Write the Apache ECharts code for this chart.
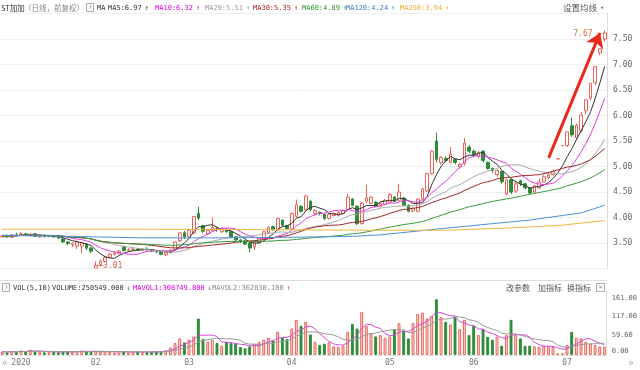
<!DOCTYPE html>
<html><head><meta charset="utf-8">
<script src="https://cdn.jsdelivr.net/npm/echarts@6/dist/echarts.min.js"></script>
<style>html,body{margin:0;padding:0;background:#fff;overflow:hidden}#c{width:640px;height:370px}</style>
</head><body><div id="c"></div>
<script>
// ---------- DATA ----------
const dates = [
 '2019-12-26','2019-12-27','2019-12-30','2019-12-31',
 '2020-01-02','2020-01-03','2020-01-06','2020-01-07','2020-01-08','2020-01-09','2020-01-10','2020-01-13','2020-01-14','2020-01-15','2020-01-16','2020-01-17','2020-01-20','2020-01-21','2020-01-22','2020-01-23',
 '2020-02-03','2020-02-04','2020-02-05','2020-02-06','2020-02-07','2020-02-10','2020-02-11','2020-02-12','2020-02-13','2020-02-14','2020-02-17','2020-02-18','2020-02-19','2020-02-20','2020-02-21','2020-02-24','2020-02-25','2020-02-26','2020-02-27','2020-02-28',
 '2020-03-02','2020-03-03','2020-03-04','2020-03-05','2020-03-06','2020-03-09','2020-03-10','2020-03-11','2020-03-12','2020-03-13','2020-03-16','2020-03-17','2020-03-18','2020-03-19','2020-03-20','2020-03-23','2020-03-24','2020-03-25','2020-03-26','2020-03-27','2020-03-30','2020-03-31',
 '2020-04-01','2020-04-02','2020-04-03','2020-04-07','2020-04-08','2020-04-09','2020-04-10','2020-04-13','2020-04-14','2020-04-15','2020-04-16','2020-04-17','2020-04-20','2020-04-21','2020-04-22','2020-04-23','2020-04-24','2020-04-27','2020-04-28','2020-04-29','2020-04-30',
 '2020-05-06','2020-05-07','2020-05-08','2020-05-11','2020-05-12','2020-05-13','2020-05-14','2020-05-15','2020-05-18','2020-05-19','2020-05-20','2020-05-21','2020-05-22','2020-05-25','2020-05-26','2020-05-27','2020-05-28','2020-05-29',
 '2020-06-01','2020-06-02','2020-06-03','2020-06-04','2020-06-05','2020-06-08','2020-06-09','2020-06-10','2020-06-11','2020-06-12','2020-06-15','2020-06-16','2020-06-17','2020-06-18','2020-06-19','2020-06-22','2020-06-23','2020-06-24','2020-06-29','2020-06-30',
 '2020-07-01','2020-07-02','2020-07-03','2020-07-06','2020-07-07','2020-07-08','2020-07-09','2020-07-10','2020-07-13'
];
const opens = [
 3.62,3.64,3.61,3.66, 3.66,3.68,3.65,3.68,3.62,3.65,3.63,3.64,3.62,3.58,3.52,3.47,3.44,3.44,3.48,3.40,
 3.01,3.08,3.14,3.22,3.28,3.30,3.42,3.35,3.37,3.38,3.36,3.38,3.37,3.34,3.33,3.27,3.31,3.37,3.55,3.70,
 3.62,3.70,4.08,3.84,3.68,3.74,3.78,3.72,3.77,3.72,3.62,3.56,3.54,3.50,3.42,3.50,3.60,3.70,3.82,3.76,3.95,3.84,
 3.78,4.02,4.22,4.15,4.32,4.08,4.10,4.06,3.98,4.04,4.04,4.08,4.16,4.36,4.22,3.88,4.32,4.28,4.30,4.22,4.26,
 4.30,4.40,4.34,4.38,4.24,4.13,4.12,4.36,4.52,4.86,5.50,5.08,5.16,5.08,5.14,4.99,5.06,5.38,
 5.30,5.20,5.30,5.08,4.96,4.84,4.90,4.46,4.74,4.52,4.72,4.66,4.58,4.50,4.58,4.70,4.78,4.84,5.15,5.41,
 5.41,5.80,5.56,5.70,6.09,6.34,6.64,7.23,7.50
];
const closes = [
 3.64,3.62,3.66,3.65, 3.68,3.66,3.67,3.63,3.64,3.63,3.64,3.62,3.60,3.52,3.49,3.50,3.52,3.50,3.40,3.34,
 3.06,3.14,3.22,3.28,3.30,3.34,3.35,3.37,3.38,3.36,3.38,3.37,3.34,3.33,3.28,3.31,3.36,3.52,3.70,3.62,
 3.75,4.02,3.99,3.73,3.75,3.80,3.76,3.78,3.72,3.62,3.56,3.52,3.48,3.40,3.52,3.60,3.72,3.80,3.76,3.98,3.85,3.78,
 4.08,4.25,4.12,4.42,4.15,4.14,4.08,3.98,4.06,4.08,4.10,4.14,4.40,4.24,3.88,4.28,4.38,4.40,4.22,4.28,4.34,
 4.45,4.32,4.50,4.24,4.12,4.18,4.36,4.56,4.86,5.30,5.14,5.18,5.12,5.24,5.08,5.04,5.46,5.30,
 5.22,5.28,5.12,4.96,4.92,4.92,4.70,4.74,4.50,4.66,4.66,4.58,4.48,4.62,4.70,4.80,4.84,4.90,5.15,5.41,
 5.68,5.62,5.81,6.01,6.31,6.63,6.96,7.31,7.62
];
const highs = [
 3.66,3.67,3.68,3.70, 3.72,3.70,3.69,3.70,3.66,3.67,3.66,3.65,3.64,3.59,3.54,3.52,3.55,3.53,3.50,3.42,
 3.14,3.18,3.25,3.30,3.33,3.36,3.44,3.40,3.41,3.40,3.40,3.42,3.38,3.36,3.34,3.34,3.38,3.53,3.72,3.74,
 3.78,4.03,4.21,3.86,3.78,4.00,3.82,3.80,3.79,3.74,3.64,3.58,3.56,3.52,3.54,3.62,3.74,3.83,3.84,4.00,3.96,3.86,
 4.10,4.35,4.24,4.45,4.34,4.16,4.12,4.08,4.08,4.10,4.12,4.16,4.46,4.38,4.24,4.30,4.64,4.42,4.32,4.30,4.36,
 4.48,4.42,4.66,4.40,4.26,4.20,4.38,4.58,4.88,5.32,5.66,5.20,5.20,5.38,5.16,5.08,5.56,5.42,
 5.33,5.30,5.32,5.10,4.98,4.95,4.92,4.76,4.76,4.70,4.74,4.68,4.60,4.64,4.76,4.84,4.88,4.94,5.15,5.41,
 5.68,5.96,5.84,6.06,6.31,6.63,6.96,7.31,7.67
];
const lows = [
 3.60,3.60,3.60,3.63, 3.64,3.64,3.62,3.62,3.60,3.61,3.61,3.60,3.58,3.50,3.46,3.42,3.38,3.30,3.36,3.30,
 3.01,3.04,3.12,3.20,3.25,3.28,3.33,3.33,3.35,3.34,3.34,3.35,3.32,3.30,3.26,3.24,3.29,3.35,3.52,3.58,
 3.60,3.68,3.95,3.70,3.66,3.72,3.72,3.70,3.70,3.60,3.54,3.50,3.46,3.32,3.36,3.48,3.58,3.68,3.74,3.74,3.82,3.76,
 3.76,4.00,4.10,4.12,4.12,4.05,4.04,3.95,3.96,4.02,4.02,4.06,4.14,4.22,3.85,3.86,4.28,4.26,4.20,4.20,4.24,
 4.28,4.30,4.32,4.22,4.10,4.10,4.10,4.34,4.50,4.84,5.08,5.04,5.08,5.06,5.04,4.96,5.02,5.26,
 5.18,5.16,5.08,4.94,4.88,4.80,4.66,4.44,4.46,4.48,4.62,4.55,4.45,4.48,4.56,4.68,4.75,4.82,5.15,5.41,
 5.38,5.58,5.52,5.66,6.02,6.30,6.60,7.18,7.45
];
// volume, 万手
const volumes = [
 10,8,12,9, 14,10,16,11,9,8,10,9,8,11,10,9,12,13,11,9,
 12,10,11,9,8,12,9,8,9,10,9,8,10,11,11,14,22,36,50,38,
 46,56,110,48,40,46,36,28,40,36,34,24,20,26,34,40,46,52,44,70,52,48,
 80,106,88,100,62,40,30,34,38,26,24,28,70,94,80,130,88,66,56,60,52,
 56,78,96,74,50,96,124,128,110,118,168,115,100,92,114,78,106,60,
 88,60,78,55,46,55,28,60,106,60,50,28,28,26,25,28,26,24,5,5,
 30,70,52,50,40,34,30,26,25.05
];
// long moving averages: [index, value]
const ma120Read = [[0,3.65],[15,3.63],[30,3.60],[45,3.60],[60,3.61],[75,3.63],[81,3.66],[95,3.79],[105,3.88],[113,3.95],[120,4.04],[124,4.09],[129,4.24]];
const ma250Read = [[0,3.77],[30,3.77],[60,3.76],[80,3.75],[95,3.75],[110,3.80],[120,3.85],[129,3.94]];
const monthStarts = ['2020-01-02','2020-02-03','2020-03-02','2020-04-01','2020-05-06','2020-06-01','2020-07-01'];
const monthLabels = ['2020','02','03','04','05','06','07'];
const volTicks = [0, 59.6, 117, 161];
const volTickLabels = ['0.00','59.60','117.00','161.00'];
const maNames = ['MA5','MA10','MA20','MA30','MA60','MA120','MA250'];
const maLast = ['6.97','6.32','5.51','5.35','4.89','4.24','3.94'];
const maTrend = ['↑','↑','↑','↑','↑','↑','↑'];
const volHeadNames = ['VOLUME','MAVOL1','MAVOL2'];
const volHeadValues = ['250549.000','308749.800','362830.100'];
const volHeadTrend = ['↓','↓','↑'];

// ---------- STYLE ----------
const UP = '#e8645a', DOWN = '#2e8b3a';
const maColors = ['#333333','#e03ce0','#aaaaaa','#a02828','#3a9a3a','#4f8fd8','#f0b440'];
const maTextColors = ['#333333','#e000e0','#999999','#b02020','#2a9a2a','#3a7fd0','#f0a830'];
const MONO = '"DejaVu Sans Mono"', CJK = '"Noto Sans CJK SC"';

function movAvg(arr, n){
  return arr.map((_, i) => {
    const s = Math.max(0, i - n + 1); let sum = 0;
    for (let k = s; k <= i; k++) sum += arr[k];
    return +(sum / (i - s + 1)).toFixed(3);
  });
}
function sign(i){
  if (closes[i] > opens[i]) return 1;
  if (closes[i] < opens[i]) return -1;
  return i > 0 && closes[i] >= closes[i-1] ? 1 : -1;
}

const kData = dates.map((d, i) => [opens[i], closes[i], lows[i], highs[i]]);
const volData = volumes.map((v, i) => ({
  value: v,
  itemStyle: sign(i) > 0 ? {color:'#fcdcda', borderColor:UP, borderWidth:1} : {color:DOWN, borderColor:DOWN, borderWidth:1}
}));

const maSeries = [
  movAvg(closes,5), movAvg(closes,10), movAvg(closes,20), movAvg(closes,30), movAvg(closes,60), ma120Read, ma250Read
].map((d, k) => ({
  type:'line', name:maNames[k], data:d, xAxisIndex:0, yAxisIndex:0, showSymbol:false, symbol:'none',
  lineStyle:{width:1, color:maColors[k]}, itemStyle:{color:maColors[k]}, silent:true, z:3
}));

// ---------- HEADER GRAPHICS ----------
const g = [];
function txt(t, x, y, color, font, align){ g.push({type:'text', x:x, y:y, silent:true, style:{text:t, fill:color, font:font, verticalAlign:'middle', align:align||'left'}}); }
txt('ST加加', 1, 8, '#333', '7.5px ' + CJK);
txt('（日线，前复权）', 24, 8, '#888', '7.5px ' + CJK);
g.push({type:'rect', shape:{x:86.5,y:3.5,width:7,height:8}, style:{fill:'none', stroke:'#aaa', lineWidth:1}});
txt('?', 90, 8, '#888', '6px ' + MONO, 'center');
txt('MA', 97, 8, '#333', '7px ' + MONO);
const maX = [108,155,205,253,302,346,400];
maNames.forEach((n, k) => {
  const s = n + ':' + maLast[k];
  txt(s, maX[k], 8, maTextColors[k], '7px ' + MONO);
  txt(maTrend[k], maX[k] + s.length*4.21 + 3, 8, maTextColors[k], '7px ' + MONO);
});
txt('设置均线', 563, 8, '#555', '8.5px ' + CJK);
txt('▾', 600, 8, '#777', '7px ' + MONO);

// volume header
g.push({type:'rect', shape:{x:2.5,y:283.5,width:7,height:8}, style:{fill:'none', stroke:'#aaa', lineWidth:1}});
txt('?', 6, 288, '#888', '6px ' + MONO, 'center');
txt('VOL(5,10)', 13, 288, '#333', '7px ' + MONO);
const vhX = [52,133,212];
const vhColors = ['#333','#e000e0','#888'];
const vhArrowColors = ['#2a8a3a','#2a8a3a','#e04030'];
volHeadNames.forEach((n, k) => {
  const s = n + ':' + volHeadValues[k];
  txt(s, vhX[k], 288, vhColors[k], '7px ' + MONO);
  txt(volHeadTrend[k], vhX[k] + s.length*4.21 + 3, 288, vhArrowColors[k], '7px ' + MONO);
});
txt('改参数', 506, 288, '#555', '8px ' + CJK);
txt('加指标', 538, 288, '#555', '8px ' + CJK);
txt('换指标', 567, 288, '#555', '8px ' + CJK);
g.push({type:'rect', shape:{x:596.5,y:283.5,width:8,height:8}, style:{fill:'none', stroke:'#aaa', lineWidth:1}});
txt('×', 600.5, 287.5, '#888', '7px ' + MONO, 'center');
txt('«', 2, 363, '#aaa', '10px ' + MONO);
txt('»', 628, 363, '#aaa', '10px ' + MONO);

// ---------- OPTION ----------
const option = {
  animation:false,
  backgroundColor:'#ffffff',
  grid:[
    {left:-3, right:33, top:13.5, height:255},
    {left:-3, right:33, top:291, height:64}
  ],
  xAxis:[
    {type:'category', data:dates, gridIndex:0, boundaryGap:true, offset:11.5,
     axisLine:{show:true, lineStyle:{color:'#dcdcdc'}}, axisTick:{show:false}, axisLabel:{show:false}, splitLine:{show:false}},
    {type:'category', data:dates, gridIndex:1, boundaryGap:true,
     axisLine:{show:true, lineStyle:{color:'#e4e4e4'}}, axisTick:{show:false}, splitLine:{show:false},
     axisLabel:{interval:(i, v) => monthStarts.indexOf(v) >= 0,
                formatter:v => { const k = monthStarts.indexOf(v); return k >= 0 ? monthLabels[k] : ''; },
                color:'#777', fontSize:8, fontFamily:'DejaVu Sans Mono', margin:4}}
  ],
  yAxis:[
    {type:'value', gridIndex:0, position:'right', min:3, max:8, interval:0.5, scale:false,
     axisLine:{show:true, lineStyle:{color:'#dcdcdc'}}, axisTick:{show:false},
     axisLabel:{formatter:v => v.toFixed(2), showMinLabel:false, showMaxLabel:false, color:'#666', fontSize:8, fontFamily:'DejaVu Sans Mono', margin:6},
     splitLine:{show:true, lineStyle:{color:'#efefef', width:1}}},
    {type:'value', gridIndex:1, position:'right', min:0, max:193,
     axisLine:{show:true, lineStyle:{color:'#dcdcdc'}}, axisTick:{show:false}, splitLine:{show:false},
     axisLabel:{customValues:volTicks, formatter:v => { const k = volTicks.indexOf(v); return k >= 0 ? volTickLabels[k] : ''; },
                verticalAlign:'middle', verticalAlignMinLabel:'bottom', verticalAlignMaxLabel:'bottom',
                color:'#666', fontSize:7, fontFamily:'DejaVu Sans Mono', margin:5}}
  ],
  graphic:g,
  series:[
    {type:'candlestick', name:'K', data:kData, xAxisIndex:0, yAxisIndex:0, barWidth:'68%', z:2,
     itemStyle:{color:'#ffffff', color0:DOWN, borderColor:UP, borderColor0:DOWN, borderWidth:1},
     markPoint:{silent:true, symbol:'rect', symbolSize:[1,1], itemStyle:{color:'rgba(0,0,0,0)'},
       data:[
         {type:'max', valueDim:'highest', label:{show:true, position:'left', distance:2, offset:[0,4], formatter:'{c} ─', color:'#e06a3c', fontSize:8, fontFamily:'DejaVu Sans Mono'}},
         {type:'min', valueDim:'lowest', label:{show:true, position:'right', distance:2, offset:[0,-2], formatter:'─{c}', color:'#d0604a', fontSize:8, fontFamily:'DejaVu Sans Mono'}}
       ]}
    },
    {type:'line', name:'trendArrow', data:[], xAxisIndex:0, yAxisIndex:0, silent:true, z:6,
     markLine:{silent:true, symbol:['none','arrow'], symbolSize:14, label:{show:false},
       lineStyle:{color:'#e8291c', width:3, type:'solid', opacity:1},
       itemStyle:{color:'#e8291c'},
       emphasis:{disabled:true},
       data:[[{coord:[117,5.17]},{coord:[128,7.62]}]]}
    },
    ...maSeries,
    {type:'bar', name:'VOL', data:volData, xAxisIndex:1, yAxisIndex:1, barWidth:'62%', silent:true},
    {type:'line', name:'MAVOL1', data:movAvg(volumes,5), xAxisIndex:1, yAxisIndex:1, showSymbol:false, symbol:'none', lineStyle:{width:1, color:'#d848d8'}, silent:true, z:3},
    {type:'line', name:'MAVOL2', data:movAvg(volumes,10), xAxisIndex:1, yAxisIndex:1, showSymbol:false, symbol:'none', lineStyle:{width:1, color:'#9a9a9a'}, silent:true, z:3}
  ]
};
const chart = echarts.init(document.getElementById('c'), null, {renderer:'canvas', width:640, height:370});
chart.setOption(option);
</script>
</body></html>
